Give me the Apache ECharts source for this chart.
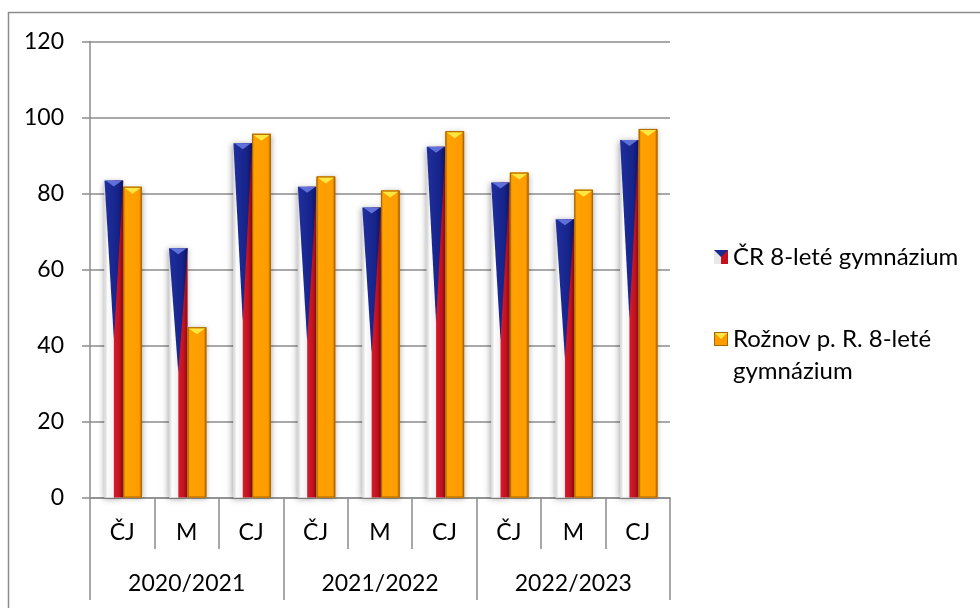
<!DOCTYPE html>
<html>
<head>
<meta charset="utf-8">
<script src="https://cdn.jsdelivr.net/npm/echarts@6/dist/echarts.min.js"></script>
<style>
html,body{margin:0;padding:0;background:#fff;}
#chart{width:980px;height:608px;}
</style>
</head>
<body>
<div id="chart"></div>
<script>
// ---- data ----
const categories = ['ČJ', 'M', 'CJ', 'ČJ', 'M', 'CJ', 'ČJ', 'M', 'CJ'];
const years = ['2020/2021', '2021/2022', '2022/2023'];
const seriesNames = ['ČR 8-leté gymnázium', 'Rožnov p. R. 8-leté gymnázium'];
const crValues = [83.4, 65.6, 93.2, 81.8, 76.3, 92.3, 82.9, 73.2, 94.1];
const roznovValues = [81.8, 44.8, 95.7, 84.5, 80.8, 96.4, 85.5, 81.0, 97.0];
const yTicks = { min: 0, max: 120, interval: 20 };

const FONT = 'Lato';
const FS = 23;
const LFS = 24;
const BARW = 0.29;
const SPLIT = 0.015;
const G = echarts.graphic;

function lg(x0, y0, x1, y1, stops) {
  return new G.LinearGradient(x0, y0, x1, y1, stops.map(s => ({ offset: s[0], color: s[1] })));
}

function renderCR(params, api) {
  const i = api.value(0), v = api.value(1);
  const p = api.coord([i, v]);
  const b = api.coord([i, 0]);
  const band = api.size([1, 0])[0];
  const w = band * BARW;
  const x1 = p[0] + band * SPLIT;
  const x0 = x1 - w;
  const yt = p[1], yb = b[1], h = yb - yt;
  const xm = x0 + w / 2;
  return {
    type: 'group',
    children: [
      { type: 'rect', shape: { x: x0, y: yt, width: w, height: h },
        style: { fill: '#fff', shadowBlur: 6, shadowColor: 'rgba(0,0,0,0.35)', shadowOffsetX: -1, shadowOffsetY: 1 } },
      { type: 'rect', shape: { x: x0, y: yt, width: w / 2, height: h },
        style: { fill: lg(0, 0, 1, 0, [[0, '#d2d2d2'], [0.35, '#fdfdfd'], [1, '#f0f0f0']]) } },
      { type: 'rect', shape: { x: xm, y: yt, width: w / 2, height: h },
        style: { fill: lg(0, 0, 1, 0, [[0, '#d41b2d'], [0.6, '#c3111f'], [1, '#8c0a14']]) } },
      { type: 'polygon', shape: { points: [[x0, yt], [x0 + w, yt], [xm, yt + h / 2]] },
        style: { fill: lg(0, 0, 1, 0, [[0, '#1f2f9c'], [0.7, '#16238a'], [1, '#0d1668']]) } },
      { type: 'polygon', shape: { points: [[x0 + 1, yt], [x0 + w - 1, yt], [xm, yt + 6]] },
        style: { fill: '#5f70d8' } }
    ]
  };
}

function renderRoz(params, api) {
  const i = api.value(0), v = api.value(1);
  const p = api.coord([i, v]);
  const b = api.coord([i, 0]);
  const band = api.size([1, 0])[0];
  const w = band * BARW;
  const x0 = p[0] + band * SPLIT;
  const yt = p[1], yb = b[1], h = yb - yt;
  const xc = x0 + w / 2;
  return {
    type: 'group',
    children: [
      { type: 'rect', shape: { x: x0, y: yt, width: w, height: h },
        style: { fill: '#ff9e00', shadowBlur: 5, shadowColor: 'rgba(0,0,0,0.3)', shadowOffsetX: 1, shadowOffsetY: 1 } },
      { type: 'rect', shape: { x: x0, y: yt, width: w, height: h },
        style: { fill: lg(0, 0, 1, 0, [[0, '#c97a00'], [0.12, '#ffa200'], [0.85, '#ff9c00'], [1, '#b86c00']]) } },
      { type: 'polygon', shape: { points: [[x0 + 1, yt + 1], [x0 + w - 1, yt + 1], [xc, yt + 7]] },
        style: { fill: '#ffe640' } },
      { type: 'rect', shape: { x: x0 + 0.5, y: yt + 0.5, width: w - 1, height: h - 1 },
        style: { fill: 'none', stroke: '#a86800', lineWidth: 1 } }
    ]
  };
}

function iconCR() {
  const c = document.createElement('canvas'); c.width = 14; c.height = 14;
  const g = c.getContext('2d');
  g.fillStyle = '#e8e8e8'; g.fillRect(0, 0, 7, 14);
  g.fillStyle = '#c3111f'; g.fillRect(7, 0, 7, 14);
  g.fillStyle = '#1a2892';
  g.beginPath(); g.moveTo(0, 0); g.lineTo(14, 0); g.lineTo(7, 7); g.closePath(); g.fill();
  return 'image://' + c.toDataURL();
}
function iconRoz() {
  const c = document.createElement('canvas'); c.width = 14; c.height = 14;
  const g = c.getContext('2d');
  g.fillStyle = '#ff9c00'; g.fillRect(0, 0, 14, 14);
  g.fillStyle = '#ffe640';
  g.beginPath(); g.moveTo(1, 1); g.lineTo(13, 1); g.lineTo(7, 7); g.closePath(); g.fill();
  g.strokeStyle = '#a86800'; g.lineWidth = 1; g.strokeRect(0.5, 0.5, 13, 13);
  return 'image://' + c.toDataURL();
}

const chart = echarts.init(document.getElementById('chart'), null, { renderer: 'canvas' });
const axisGrey = '#8c8c8c';
chart.setOption({
  animation: false,
  backgroundColor: '#fff',
  textStyle: { fontFamily: FONT },
  grid: { left: 90, right: 310, top: 41.5, bottom: 110.5, containLabel: false },
  graphic: [{
    type: 'rect', silent: true, z: -10,
    shape: { x: 8.5, y: 12.5, width: 1100, height: 1100 },
    style: { fill: 'none', stroke: axisGrey, lineWidth: 1.5 }
  }],
  legend: [
    {
      data: [{ name: seriesNames[0], icon: iconCR() }],
      orient: 'vertical', left: 714, top: 245, padding: 0,
      itemWidth: 14, itemHeight: 14, selectedMode: false,
      textStyle: { fontFamily: FONT, fontSize: LFS, color: '#000' }
    },
    {
      data: [{ name: seriesNames[1], icon: iconRoz() }],
      orient: 'vertical', left: 714, top: 291, padding: 0,
      itemWidth: 14, itemHeight: 14, selectedMode: false,
      formatter: () => ' \nRožnov p. R. 8-leté\ngymnázium',
      textStyle: { fontFamily: FONT, fontSize: LFS, color: '#000', lineHeight: 32 }
    }
  ],
  xAxis: [
    {
      type: 'category', data: categories, position: 'bottom', offset: 0,
      axisLine: { show: true, lineStyle: { color: axisGrey, width: 1.5 } },
      axisTick: { show: true, interval: 0, length: 51.5, lineStyle: { color: axisGrey, width: 1.5 } },
      axisLabel: { interval: 0, margin: 24, fontFamily: FONT, fontSize: FS, color: '#000' },
      splitLine: { show: false }
    },
    {
      type: 'category', data: years, position: 'bottom', offset: 0,
      axisLine: { show: false },
      axisTick: { show: true, interval: 0, length: 102.5, lineStyle: { color: axisGrey, width: 1.5 } },
      axisLabel: { interval: 0, margin: 75, fontFamily: FONT, fontSize: FS, color: '#000' },
      splitLine: { show: false }
    }
  ],
  yAxis: {
    type: 'value', min: yTicks.min, max: yTicks.max, interval: yTicks.interval,
    axisLine: { show: true, lineStyle: { color: axisGrey, width: 1.5 } },
    axisTick: { show: true, length: 8, lineStyle: { color: axisGrey, width: 1.5 } },
    axisLabel: { margin: 26, fontFamily: FONT, fontSize: FS, color: '#000' },
    splitLine: { show: true, lineStyle: { color: axisGrey, width: 1.5 } }
  },
  series: [
    {
      name: seriesNames[0], type: 'custom', xAxisIndex: 0, yAxisIndex: 0,
      renderItem: renderCR, encode: { x: 0, y: 1 },
      data: crValues.map((v, i) => [i, v]), z: 3
    },
    {
      name: seriesNames[1], type: 'custom', xAxisIndex: 0, yAxisIndex: 0,
      renderItem: renderRoz, encode: { x: 0, y: 1 },
      data: roznovValues.map((v, i) => [i, v]), z: 3
    }
  ]
});
</script>
</body>
</html>
